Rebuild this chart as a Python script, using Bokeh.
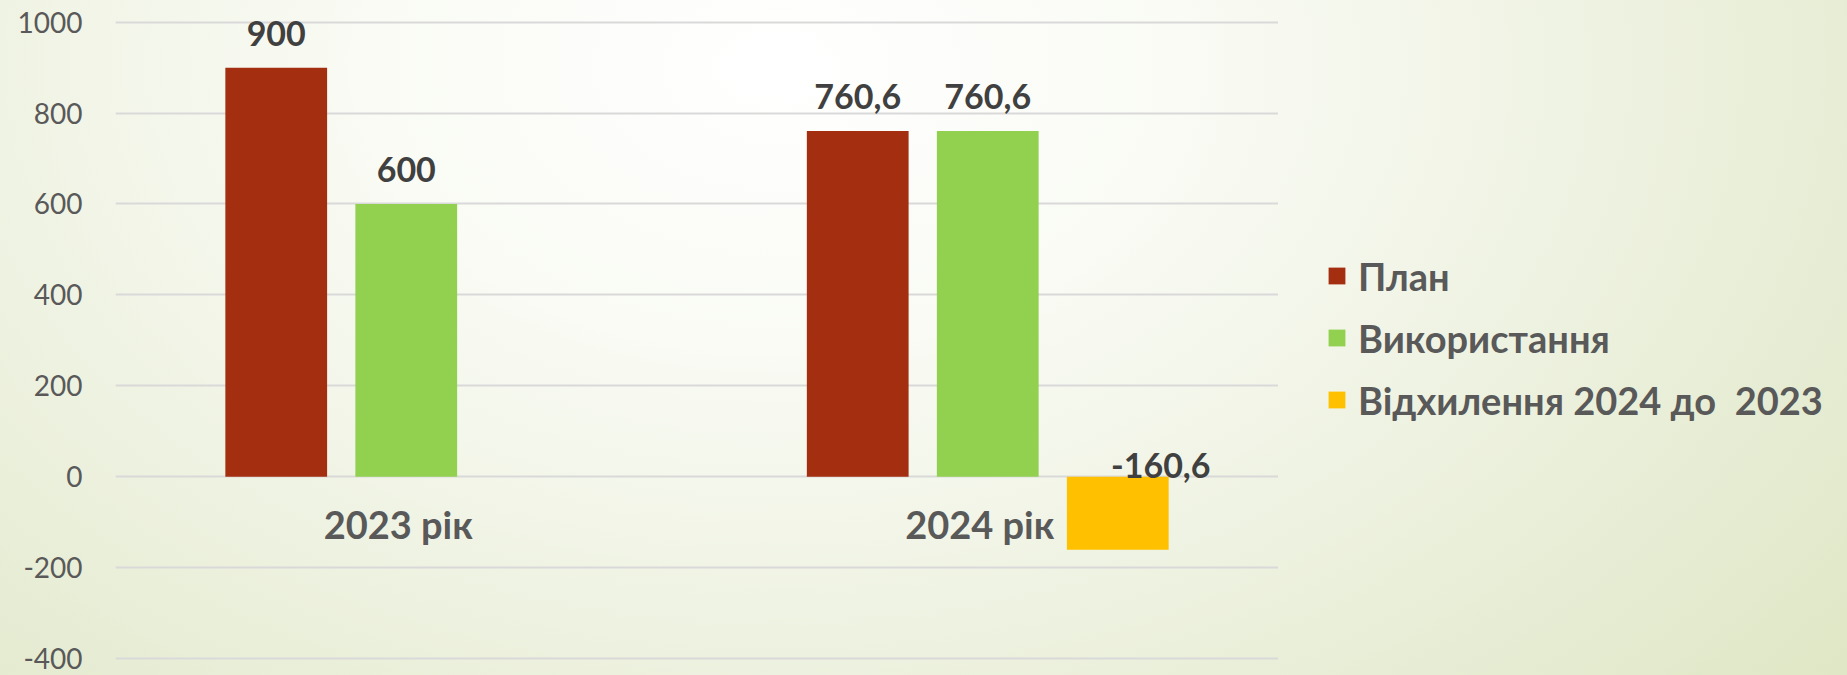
from bokeh.plotting import figure
from bokeh.layouts import row
from bokeh.models import ColumnDataSource, Range1d, FixedTicker, Legend, LegendItem
from bokeh.transform import dodge
from bokeh.core.properties import value
from bokeh.embed import file_html
from bokeh.resources import INLINE

# ---- data ----
categories = ["2023 рік", "2024 рік"]
series_names = ["План", "Використання", "Відхилення 2024 до  2023"]
plan = [900, 760.6]
usage = [600, 760.6]
deviation = [None, -160.6]
y_ticks = [-400, -200, 0, 200, 400, 600, 800, 1000]

colors = ["#A42E10", "#92D050", "#FFC000"]
FONT = "Lato"


def fmt(v):
    s = f"{v:.1f}"
    if s.endswith(".0"):
        s = s[:-2]
    return s.replace(".", ",")


def make_source(vals):
    xs = [c for c, v in zip(categories, vals) if v is not None]
    ys = [v for v in vals if v is not None]
    return ColumnDataSource(dict(
        x=xs, top=ys, label=[fmt(v) for v in ys],
        label_y=[max(v, 0) for v in ys]))


src_plan = make_source(plan)
src_use = make_source(usage)
src_dev = make_source(deviation)

p = figure(x_range=categories, y_range=Range1d(-437.4, 1047.7),
           width=1278, height=675, output_backend="svg",
           toolbar_location=None, x_axis_location=None,
           min_border_left=115, min_border_right=0,
           min_border_top=0, min_border_bottom=0)

p.background_fill_color = None
p.border_fill_color = None
p.outline_line_color = None

# grid / axis
p.xgrid.grid_line_color = None
p.ygrid.grid_line_color = "#D9D9D9"
p.ygrid.grid_line_width = 2
p.yaxis.ticker = FixedTicker(ticks=y_ticks)
p.yaxis.major_label_overrides = {t: str(t) for t in y_ticks}
p.yaxis.axis_line_color = None
p.yaxis.major_tick_line_color = None
p.yaxis.minor_tick_line_color = None
p.yaxis.major_tick_out = 0
p.yaxis.major_label_standoff = 33
p.yaxis.major_label_text_font = FONT
p.yaxis.major_label_text_font_size = "28px"
p.yaxis.major_label_text_color = "#595959"

W = 0.175
OFF = 0.2236
p.vbar(x=dodge("x", -OFF, range=p.x_range), top="top", bottom=0, width=W,
       source=src_plan, fill_color=colors[0], line_color=None)
p.vbar(x=dodge("x", 0, range=p.x_range), top="top", bottom=0, width=W,
       source=src_use, fill_color=colors[1], line_color=None)
p.vbar(x=dodge("x", OFF, range=p.x_range), top="top", bottom=0, width=W,
       source=src_dev, fill_color=colors[2], line_color=None)

lab_kw = dict(text="label", text_font=value(FONT), text_font_style="bold",
              text_font_size="34px", text_color="#404040", text_align="center",
              text_baseline="alphabetic")
p.text(x=dodge("x", -OFF, range=p.x_range), y="label_y", source=src_plan, y_offset=-34, **lab_kw)
p.text(x=dodge("x", 0, range=p.x_range), y="label_y", source=src_use, y_offset=-34, **lab_kw)
p.text(x=dodge("x", OFF, range=p.x_range), y="label_y", source=src_dev, x_offset=43, y_offset=-11, **lab_kw)

# category labels (axis crossing at zero)
cat_src = ColumnDataSource(dict(x=categories, y=[0] * len(categories), t=categories))
p.text(x="x", y="y", text="t", source=cat_src, x_offset=-8, y_offset=47, text_font=value(FONT),
       text_font_style="bold", text_font_size="38px", text_color="#595959",
       text_align="center", text_baseline="alphabetic")

# ---- legend panel ----
pl = figure(width=569, height=675, output_backend="svg", toolbar_location=None,
            x_range=Range1d(0, 1), y_range=Range1d(0, 1),
            x_axis_location=None, y_axis_location=None,
            min_border_left=0, min_border_right=0, min_border_top=0, min_border_bottom=0)
pl.background_fill_color = None
pl.border_fill_color = None
pl.outline_line_color = None
pl.grid.visible = False

items = []
for name, col in zip(series_names, colors):
    # zero-height placeholder bar: only its style is used by the legend swatch
    r = pl.vbar(x=[0.5], top=[0], bottom=0, width=0.1, fill_color=col, line_color=None)
    items.append(LegendItem(label=name, renderers=[r]))

legend = Legend(items=items, location="center_left", orientation="vertical",
                background_fill_alpha=0, border_line_color=None,
                padding=0, margin=48, spacing=16,
                glyph_width=21, glyph_height=21, label_standoff=11,
                label_text_font=FONT, label_text_font_style="bold",
                label_text_font_size="38px", label_text_color="#595959")
pl.add_layout(legend, "center")

layout = row(p, pl, spacing=0)
layout.styles = {"background": "radial-gradient(ellipse 75% 140% at 42% 10%, #ffffff 0%, #f9fbf4 30%, #eef2e1 60%, #dfe7c6 100%)"}

open("out.html", "w").write(file_html(layout, INLINE))
